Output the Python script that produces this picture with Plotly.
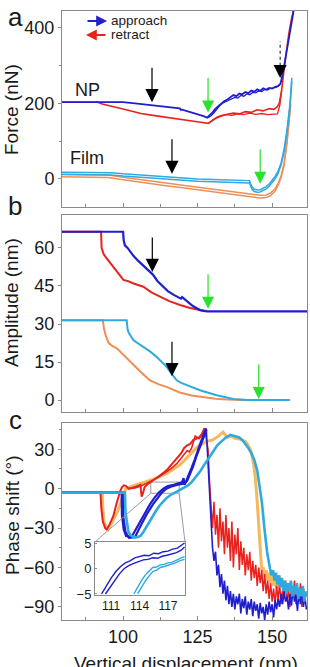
import plotly.graph_objects as go

# ---------------- data ----------------
X_RANGE = [79.5, 161.7]

# Panel a: force (nN)
np_app_a_x = [79.5, 90, 96, 100, 104, 108, 112, 116, 119, 119.3, 119.8, 122, 125, 127, 128.2, 129, 130, 131, 132, 133, 134, 135,
              136, 137, 138, 139, 140, 141, 142, 143, 144, 145, 146, 147, 148, 149, 150, 151, 152, 152.8, 153.5, 154.5, 155.5, 156.5, 157.2]
np_app_a_y = [203, 203, 203, 203, 200, 197, 193, 190, 187, 183, 183, 178, 172, 166, 162, 168, 176, 186, 193, 200, 206, 210,
              216, 222, 219, 226, 224, 230, 227, 234, 231, 237, 233, 240, 236, 241, 239, 244, 246, 252, 275, 320, 365, 410, 445]
np_app_a2_x = [128.5, 129.5, 130.5, 131.5, 132.5, 133.5, 134.5, 135.5, 136.5, 137.5, 138.5, 139.5, 140.5, 141.5, 142.5, 143.5,
               144.5, 145.5, 146.5, 147.5, 148.5, 149.5, 150.5, 151.5, 152.5]
np_app_a2_y = [162, 167, 175, 185, 195, 201, 205, 209, 212, 216, 214, 221, 219, 225, 223, 229, 228, 233, 231, 237, 236, 240, 241, 243, 248]
np_ret_a_x = [79.5, 91.5, 93, 96, 100, 103, 106, 110, 114, 117, 120, 123, 126, 128.6, 130, 131.5, 133, 135, 137, 139, 141, 143,
              145, 147, 149, 150.5, 151.6, 152.4, 153.2, 154, 154.8, 155.6, 156.4, 157.2]
np_ret_a_y = [203, 203, 198, 193, 185, 179, 173, 168, 163, 160, 156, 153, 150, 147, 155, 163, 168, 171, 174, 172, 178, 176,
              183, 180, 186, 184, 190, 200, 235, 290, 341, 385, 420, 448]
np_ret_a2_x = [128.6, 130.5, 132.5, 134.5, 136.5, 138.5, 140.5, 142.5, 144.5, 146.5, 148.5, 150.5, 151.8, 152.6, 153.2]
np_ret_a2_y = [147, 158, 165, 170, 168, 172, 170, 174, 171, 173, 170, 172, 172, 195, 235]
film_app_a_x = [79.5, 88, 96, 100, 105, 110, 115, 120, 125, 130, 135, 140, 142.4, 142.7, 143.3, 144, 145, 146, 147, 148, 149,
                150, 151, 152, 153, 154, 155, 156, 156.6]
film_app_a_y = [17, 17, 16, 13, 10, 7, 4, 1, -1, -2, -3, -4, -5, -12, -22, -28, -30, -29, -26, -21, -14, -5, 6, 20, 42, 78, 130, 200, 268]
film_app_a2_y = [11, 11, 10, 7, 4, 1, -2, -5, -7, -8, -9, -10, -11, -18, -28, -34, -36, -35, -32, -27, -20, -11, 0, 14, 36, 70, 122, 190, 258]
film_ret_a_x = [79.5, 90, 95, 100, 105, 110, 115, 120, 125, 130, 135, 140, 144, 146, 148, 149.5, 151, 152, 153, 154, 155, 156.2]
film_ret_a_y = [12, 12, 10, 4, -2, -7, -12, -17, -22, -28, -33, -38, -42, -44, -43, -38, -27, -12, 8, 40, 100, 200]
film_ret_a2_y = [5, 5, 3, -3, -9, -14, -19, -24, -29, -35, -40, -45, -49, -51, -50, -45, -33, -18, 3, 35, 95, 195]

# Panel b: amplitude (nm)
np_app_b_x = [79.5, 100, 100.2, 100.6, 101.5, 103.4, 105, 106.8, 108.5, 110, 111.5, 113.4, 115, 117, 119, 119.4, 119.8,
              121.4, 123.5, 125.8, 127.3, 128.2, 161.7]
np_app_b_y = [66.4, 66.4, 63, 61, 60, 57, 55, 53, 51, 49.5, 47, 44.8, 43, 41.5, 40.5, 40, 40.6, 39, 37, 35.5, 35, 35, 35]
np_ret_b_x = [79.5, 92.6, 92.8, 93.5, 94.5, 96.7, 98.4, 99.6, 100.1, 101.5, 103.5, 106.8, 109.5, 112.4, 115.5, 119.1, 122.5, 125.8, 127.5]
np_ret_b_y = [66.4, 66.4, 60, 57.5, 55.9, 52.6, 50, 48.5, 47.4, 47, 46, 44.7, 42.5, 40.8, 39, 37.5, 36.3, 35.5, 35]
film_app_b_x = [79.5, 101.2, 101.5, 101.9, 103.5, 106.8, 109, 111.3, 114.6, 116.5, 118, 119.5, 121.4, 125.8, 131.4, 137, 142, 156]
film_app_b_y = [31.5, 31.5, 28, 26.5, 23.6, 21, 19.2, 17, 13.1, 10, 7.8, 6.8, 5.9, 3.9, 1.9, 0.4, 0, 0]
film_ret_b_x = [79.5, 93.2, 93.6, 94.3, 95.2, 96.2, 97.9, 99.5, 101.5, 103.4, 106, 109, 112, 115, 119, 123, 127, 131, 135, 140, 156]
film_ret_b_y = [31.5, 31.5, 28, 25, 22.5, 21.5, 20.4, 18.5, 16, 13.8, 11, 7.8, 6.2, 5, 3, 1.8, 1, 0.5, 0.2, 0, 0]

# Panel c: phase shift (deg)
np_app_c1_x = [79.5, 99.5, 99.6, 100.2, 101.0, 102.0, 103.0, 104.5, 106.8, 109.0, 110.5, 112.0, 113.5, 115.0, 117.0, 119.0,
               119.8, 120.3, 120.6, 121.2, 122.0, 123.0, 124.0, 125.0, 126.0, 127.0, 127.9]
np_app_c1_y = [-3, -3, -20, -31, -36, -36.5, -36, -30, -20, -12, -7, -3, 0, 2, 3, 4.3, 5, 8, 3, 6, 10, 16, 22, 29, 35, 41, 46]
np_app_c2_x = [79.5, 100.0, 100.1, 100.8, 102.0, 103.0, 104.0, 105.5, 107.8, 110.0, 111.5, 113.0, 114.5, 116.0, 118.0, 119.5,
               120.5, 121.5, 122.5, 123.5, 124.5, 125.5, 126.5, 127.5, 128.0]
np_app_c2_y = [-3, -3, -22, -33, -37.5, -37.5, -37, -30, -20, -12, -7, -3, 0, 1.5, 2.8, 3.5, 4, 6, 11, 17, 24, 30, 36, 42, 45]
np_app_c_tail_x = [127.9, 128.5, 129.0, 129.5, 130.0, 130.5, 131.0, 131.5, 132.0, 132.5, 133.0, 133.5, 134.0, 134.5, 135.0,
                   135.5, 136.0, 136.5, 137.0, 137.5, 138.0, 138.5, 139.0, 139.5, 140.0, 140.5, 141.0, 141.5, 142.0, 142.5,
                   143.0, 143.5, 144.0, 144.5, 145.0, 145.5, 146.0, 146.5, 147.0, 147.5, 148.0, 148.5, 149.0, 149.5, 150.0,
                   150.5, 151.0, 151.5, 152.0, 152.5, 153.0, 153.5, 154.0, 154.5, 155.0, 155.5, 156.0, 156.5, 157.0, 157.5,
                   158.0, 158.5, 159.0, 159.5, 160.0, 160.5, 161.0, 161.5]
np_app_c_tail_y = [45, 20, -5, -25, -45, -55, -48, -66, -58, -75, -65, -80, -70, -85, -74, -88, -78, -90, -80, -92, -82, -88,
                   -80, -95, -84, -91, -82, -96, -86, -92, -84, -97, -86, -93, -88, -99, -87, -95, -90, -100, -88, -96, -86,
                   -94, -88, -98, -85, -92, -84, -90, -80, -88, -78, -86, -82, -92, -80, -89, -76, -86, -81, -93, -79, -88,
                   -75, -90, -82, -92]
np_ret_c1_x = [79.5, 92.4, 92.7, 93.2, 94.0, 94.5, 95.5, 96.7, 97.6, 98.4, 99.0, 99.6, 100.3, 101.0, 101.8, 103, 104, 105, 105.8,
               106.2, 106.6, 107.2, 108, 109, 110.5, 112, 113.5, 115, 116.5, 118, 119.5, 120.5, 121.5, 122.5, 123.5, 124.5,
               125.5, 126.5, 127.3]
np_ret_c1_y = [-3, -3, -15, -25, -30, -31, -27, -21, -13, -6, -2, 1, 2.5, 2, 0, 0.5, 1, 2, 3, -6, -4, 1, 3, 4.5, 7, 9.5, 12, 15,
               19, 23, 27, 31, 33, 34, 37, 38, 39, 42, 46]
np_ret_c2_x = [101.8, 104, 106, 108, 110, 112, 114, 116, 118, 120, 121.5, 122.2, 123, 124.2, 125.5, 126.5, 127.3]
np_ret_c2_y = [0, 0.5, 2, 4, 6.5, 9, 12, 15, 19, 25, 29, 28, 31, 40, 38, 41, 46]
np_ret_c_tail_x = [127.3, 128.0, 128.5, 129.0, 129.5, 130.0, 130.5, 131.0, 131.5, 132.0, 132.5, 133.0, 133.5, 134.0, 134.5,
                   135.0, 135.5, 136.0, 136.5, 137.0, 137.5, 138.0, 138.5, 139.0, 139.5, 140.0, 140.5, 141.0, 141.5, 142.0,
                   142.5, 143.0, 143.5, 144.0, 144.5, 145.0, 145.5, 146.0, 146.5, 147.0, 147.5, 148.0, 148.5, 149.0, 149.5,
                   150.0, 150.5, 151.0, 151.5, 152.0, 152.5, 153.0, 153.5, 154.0, 154.5, 155.0, 155.5, 156.0, 156.5, 157.0,
                   157.5, 158.0, 158.5, 159.0, 159.5, 160.0, 160.5, 161.0, 161.5]
np_ret_c_tail_y = [46, 38, 30, 5, -15, -30, -10, -35, -20, -45, -15, -40, -25, -50, -20, -45, -30, -55, -25, -60, -35, -50,
                   -30, -62, -40, -58, -45, -66, -50, -62, -48, -70, -55, -68, -58, -74, -60, -72, -62, -78, -65, -80, -70,
                   -84, -72, -86, -76, -88, -74, -85, -72, -88, -78, -84, -70, -86, -76, -90, -74, -82, -70, -88, -78, -85,
                   -72, -90, -76, -84, -80]
film_ret_c_x = [79.5, 93.0, 93.2, 93.6, 94.3, 95.0, 95.6, 96.8, 97.9, 99.0, 100.1, 100.9, 103, 106, 110, 115, 119, 122, 125, 128,
                130, 132, 133.5, 135, 136, 137, 138, 139, 140, 141, 142, 143, 143.7, 144.3, 145, 145.5, 146, 146.5, 147, 147.5,
                148, 148.5, 149, 149.5, 150, 150.5, 151, 151.5, 152, 152.6]
film_ret_c_y = [-3, -3, -15, -25, -29, -31, -28.6, -23, -18.5, -12, -5.8, 0, 2, 4, 7, 12, 18, 25, 32, 36, 37, 40, 43, 39, 40, 39,
                38, 38, 37, 36, 33, 28, 20, 10, -10, -30, -50, -62, -60, -67, -62, -70, -64, -72, -66, -74, -68, -76, -70, -66]
film_app_c_x = [79.5, 100.6, 100.8, 101.3, 101.8, 102.8, 103.8, 104.8, 105.8, 106.8, 107.8, 108.8, 109.8, 111, 112.2, 113.4,
                114.6, 115.8, 117, 118.2, 119.4, 120.6, 121.8, 123, 124.4, 125.8, 127.2, 128.6, 130.2, 131.6, 133, 134.5, 136,
                137, 138, 139, 140, 141, 142, 143, 144, 145, 145.8, 146.6, 147.4, 148.3, 149.3, 149.8, 150.3, 150.8, 151.3,
                151.8, 152.3, 152.8, 153.3, 153.8, 154.3, 154.8, 155.3, 155.8, 156.3, 156.8, 157.3, 157.8, 158.3, 158.8,
                159.3, 159.8, 160.3, 160.8, 161.3]
film_app_c_y = [-3, -3, -18, -28, -33, -36, -37, -37, -36, -33, -29, -25.5, -22, -17, -13, -10, -7, -5, -3.5, -2, -0.5, 0.5, 2.5,
                5, 9, 13, 18, 23, 29, 33, 36, 39, 41, 40.5, 40, 39, 37, 34, 31, 27, 22, 14, 2, -11, -30, -48, -61, -66, -62,
                -70, -64, -73, -66, -75, -68, -78, -70, -80, -72, -78, -70, -82, -74, -80, -72, -84, -76, -82, -74, -86, -78]

# Inset (zoom of panel c)
inset_blue1_x = [110.0, 110.5, 111.0, 111.5, 112.0, 112.5, 113.0, 113.5, 114.0, 114.5, 115.0, 115.5, 116.0, 116.5, 117.0,
                 117.5, 118.0, 118.4, 118.75]
inset_blue1_y = [-5.0, -3.4, -1.9, -0.6, 0.4, 1.1, 1.5, 2.1, 2.3, 2.6, 2.5, 3.0, 2.9, 3.3, 3.4, 3.8, 4.0, 4.6, 5.0]
inset_blue2_x = [110.4, 110.9, 111.4, 111.9, 112.4, 112.9, 113.4, 113.9, 114.4, 114.9, 115.4, 115.9, 116.4, 116.9, 117.4,
                 117.9, 118.4, 118.75]
inset_blue2_y = [-5.0, -3.6, -2.2, -1.0, 0.0, 0.6, 1.0, 1.4, 1.7, 1.8, 2.1, 2.0, 2.4, 2.6, 2.9, 3.1, 3.6, 4.2]
inset_cyan1_x = [113.4, 113.8, 114.2, 114.6, 115.0, 115.4, 115.8, 116.2, 116.6, 117.0, 117.4, 117.8, 118.2, 118.5, 118.75]
inset_cyan1_y = [-5.0, -3.6, -2.4, -1.3, -0.5, 0.2, 0.3, 0.7, 0.8, 1.1, 1.2, 1.5, 1.9, 2.2, 2.3]
inset_cyan2_x = [113.8, 114.2, 114.6, 115.0, 115.4, 115.8, 116.2, 116.6, 117.0, 117.4, 117.8, 118.2, 118.5, 118.75]
inset_cyan2_y = [-5.0, -3.7, -2.5, -1.5, -0.6, -0.3, 0.2, 0.4, 0.6, 0.8, 1.1, 1.5, 1.7, 1.8]

# ---------------- style ----------------
BLUE = "#1f1fcf"
RED = "#e8231f"
CYAN = "#2eaadf"
ORANGE_A = "#ef8f55"
ORANGE_C = "#f4b24c"
GREEN = "#27e32a"
AX = "#8a8a8a"
TXT = "#1a1a1a"
FONT = "Liberation Sans, Arial, sans-serif"

W, H = 310, 667
ML, MR, MT, MB = 62, 3, 11, 47
PH = H - MT - MB


def py(px):
    return (H - MB - px) / PH


def pxx(px):
    return (px - ML) / (W - ML - MR)


DOM_A = [py(207), 1.0]
DOM_B = [py(412), py(215)]
DOM_C = [0.0, py(423)]
Y_A = [-75, 445]
Y_B = [-4.7, 73]
Y_C = [-100, 50]
IN_X = [109.3, 118.8]
IN_Y = [-5.2, 5.2]
IN_DX = [pxx(95), pxx(185)]
IN_DY = [py(595), py(542)]

fig = go.Figure()


def line(x, y, color, width, xa, ya, opacity=1.0):
    fig.add_trace(go.Scatter(x=x, y=y, mode="lines", line=dict(color=color, width=width),
                             opacity=opacity, xaxis=xa, yaxis=ya, showlegend=False, hoverinfo="skip"))


# panel a
line(film_ret_a_x, film_ret_a_y, ORANGE_A, 1.5, "x", "y")
line(film_ret_a_x, film_ret_a2_y, ORANGE_A, 1.5, "x", "y")
line(film_app_a_x, film_app_a_y, CYAN, 1.5, "x", "y")
line(film_app_a_x, film_app_a2_y, CYAN, 1.5, "x", "y")
line(np_ret_a_x, np_ret_a_y, RED, 1.6, "x", "y")
line(np_ret_a2_x, np_ret_a2_y, RED, 1.3, "x", "y")
line(np_app_a_x, np_app_a_y, BLUE, 1.8, "x", "y")
line(np_app_a2_x, np_app_a2_y, BLUE, 1.3, "x", "y")

# panel b
line(film_ret_b_x, film_ret_b_y, ORANGE_A, 2, "x2", "y2")
line(film_app_b_x, film_app_b_y, CYAN, 2, "x2", "y2")
line(np_ret_b_x, np_ret_b_y, RED, 2, "x2", "y2")
line(np_app_b_x, np_app_b_y, BLUE, 2.2, "x2", "y2")

# panel c
line(film_ret_c_x, film_ret_c_y, ORANGE_C, 3, "x3", "y3", 0.9)
line(np_ret_c_tail_x, np_ret_c_tail_y, RED, 1.5, "x3", "y3")
line(np_ret_c1_x, np_ret_c1_y, RED, 2, "x3", "y3")
line(np_ret_c2_x, np_ret_c2_y, RED, 1.6, "x3", "y3")
line(np_app_c_tail_x, np_app_c_tail_y, BLUE, 1.6, "x3", "y3")
line(np_app_c1_x, np_app_c1_y, BLUE, 2.2, "x3", "y3")
line(np_app_c2_x, np_app_c2_y, BLUE, 2.2, "x3", "y3")
line(film_app_c_x, film_app_c_y, CYAN, 2.6, "x3", "y3")

# inset
line(inset_blue1_x, inset_blue1_y, BLUE, 1.4, "x4", "y4")
line(inset_blue2_x, inset_blue2_y, BLUE, 1.4, "x4", "y4")
line(inset_cyan1_x, inset_cyan1_y, CYAN, 1.4, "x4", "y4")
line(inset_cyan2_x, inset_cyan2_y, CYAN, 1.4, "x4", "y4")

common_x = dict(range=X_RANGE, showline=True, linecolor=AX, linewidth=1, mirror=True, ticks="inside",
                ticklen=4, tickcolor=AX, tick0=100, dtick=25, showgrid=False, zeroline=False,
                minor=dict(ticks="inside", ticklen=3, tickcolor=AX, dtick=12.5, tick0=100),
                tickfont=dict(size=18, color=TXT, family=FONT))
common_y = dict(showline=True, linecolor=AX, linewidth=1, mirror=True, ticks="outside", ticklen=3,
                tickcolor=AX, showgrid=False, zeroline=False, tickfont=dict(size=18, color=TXT, family=FONT))

fig.update_layout(
    width=W, height=H, margin=dict(l=ML, r=MR, t=MT, b=MB),
    paper_bgcolor="white", plot_bgcolor="white", showlegend=False,
    xaxis=dict(common_x, domain=[0, 1], anchor="y", showticklabels=False),
    xaxis2=dict(common_x, domain=[0, 1], anchor="y2", showticklabels=False),
    xaxis3=dict(common_x, domain=[0, 1], anchor="y3", showticklabels=True),
    yaxis=dict(common_y, domain=DOM_A, anchor="x", range=Y_A, tickvals=[0, 200, 400],
               minor=dict(ticks="outside", ticklen=2, tickcolor=AX, tickvals=[100, 300])),
    yaxis2=dict(common_y, domain=DOM_B, anchor="x2", range=Y_B, tickvals=[0, 15, 30, 45, 60]),
    yaxis3=dict(common_y, domain=DOM_C, anchor="x3", range=Y_C, tickvals=[-90, -60, -30, 0, 30],
                minor=dict(ticks="outside", ticklen=2, tickcolor=AX, tickvals=[-75, -45, -15, 15, 45])),
    xaxis4=dict(domain=IN_DX, anchor="y4", range=IN_X, showline=True, linecolor=AX, linewidth=1, mirror=True,
                ticks="", tickvals=[111, 114, 117], showgrid=False, zeroline=False,
                tickfont=dict(size=12, color=TXT, family=FONT)),
    yaxis4=dict(domain=IN_DY, anchor="x4", range=IN_Y, showline=True, linecolor=AX, linewidth=1, mirror=True,
                ticks="inside", ticklen=2, tickcolor=AX, tickvals=[-5, 0, 5], showgrid=False, zeroline=False,
                tickfont=dict(size=13, color=TXT, family=FONT)),
)

ann = []
# axis titles and panel letters
ann.append(dict(text="Force (nN)", xref="paper", yref="paper", x=pxx(11), y=py(110), textangle=-90,
                showarrow=False, font=dict(size=19, color=TXT, family=FONT), xanchor="center", yanchor="middle"))
ann.append(dict(text="Amplitude (nm)", xref="paper", yref="paper", x=pxx(11), y=py(303), textangle=-90,
                showarrow=False, font=dict(size=19, color=TXT, family=FONT), xanchor="center", yanchor="middle"))
ann.append(dict(text="Phase shift (°)", xref="paper", yref="paper", x=pxx(12), y=py(515), textangle=-90,
                showarrow=False, font=dict(size=19, color=TXT, family=FONT), xanchor="center", yanchor="middle"))
ann.append(dict(text="Vertical displacement (nm)", xref="paper", yref="paper", x=pxx(186), y=py(663),
                showarrow=False, font=dict(size=19, color=TXT, family=FONT), xanchor="center", yanchor="middle"))
for letter, cy in (("a", 17), ("b", 206), ("c", 420)):
    ann.append(dict(text=letter, xref="paper", yref="paper", x=pxx(15), y=py(cy), showarrow=False,
                    font=dict(size=26, color=TXT, family=FONT), xanchor="center", yanchor="middle"))
# NP / Film labels
ann.append(dict(text="NP", xref="x", yref="y", x=87.9, y=235, showarrow=False,
                font=dict(size=18, color=TXT, family=FONT)))
ann.append(dict(text="Film", xref="x", yref="y", x=87.9, y=56, showarrow=False,
                font=dict(size=18, color=TXT, family=FONT)))
# legend
ann.append(dict(text="", xref="paper", yref="paper", x=pxx(107), y=py(21), ax=-21, ay=0, axref="pixel", ayref="pixel",
                showarrow=True, arrowhead=2, arrowsize=1.2, arrowwidth=1.8, arrowcolor=BLUE))
ann.append(dict(text="", xref="paper", yref="paper", x=pxx(86), y=py(35), ax=21, ay=0, axref="pixel", ayref="pixel",
                showarrow=True, arrowhead=2, arrowsize=1.2, arrowwidth=1.8, arrowcolor=RED))
ann.append(dict(text="approach", xref="paper", yref="paper", x=pxx(109), y=py(20.5), showarrow=False,
                xanchor="left", yanchor="middle", font=dict(size=13.5, color=TXT, family=FONT)))
ann.append(dict(text="retract", xref="paper", yref="paper", x=pxx(109), y=py(35), showarrow=False,
                xanchor="left", yanchor="middle", font=dict(size=13.5, color=TXT, family=FONT)))

# marker arrows: (xaxis, yaxis, tip x, tip y, color)
arrows = [
    ("x", "y", 109.7, 203, "black"), ("x", "y", 128.5, 176, GREEN),
    ("x", "y", 116.4, 13, "black"), ("x", "y", 146.0, -13, GREEN),
    ("x2", "y2", 109.8, 50.5, "black"), ("x2", "y2", 128.5, 36, GREEN),
    ("x2", "y2", 116.4, 9.4, "black"), ("x2", "y2", 145.5, 0.4, GREEN),
]
for xa, ya, xt, yt, col in arrows:
    ann.append(dict(text="", xref=xa, yref=ya, x=xt, y=yt, ax=0, ay=-36, axref="pixel", ayref="pixel",
                    showarrow=True, arrowhead=2, arrowsize=2.2 if col == "black" else 2.0,
                    arrowwidth=1.2, arrowcolor=col))
# dashed arrow (head) near the steep rise
ann.append(dict(text="", xref="x", yref="y", x=152.7, y=267, ax=0, ay=-13, axref="pixel", ayref="pixel",
                showarrow=True, arrowhead=2, arrowsize=2.2, arrowwidth=1.2, arrowcolor="black"))

fig.update_layout(annotations=ann)

shapes = []
shapes.append(dict(type="line", xref="x", yref="y", x0=152.7, x1=152.7, y0=300, y1=365,
                   line=dict(color="#444", width=1.3, dash="dot")))
# zoom box in panel c and connectors to the inset


def cpx(xv):
    return (xv - X_RANGE[0]) / (X_RANGE[1] - X_RANGE[0])


def cpy(yv):
    return DOM_C[0] + (yv - Y_C[0]) / (Y_C[1] - Y_C[0]) * (DOM_C[1] - DOM_C[0])


shapes.append(dict(type="rect", xref="x3", yref="y3", x0=IN_X[0], x1=IN_X[1], y0=-3.5, y1=5,
                   line=dict(color="#9a9a9a", width=1), layer="below"))
shapes.append(dict(type="line", xref="paper", yref="paper", x0=IN_DX[0], y0=IN_DY[1], x1=cpx(IN_X[0]), y1=cpy(-3.5),
                   line=dict(color="#9a9a9a", width=1)))
shapes.append(dict(type="line", xref="paper", yref="paper", x0=IN_DX[1], y0=IN_DY[1], x1=cpx(IN_X[1]), y1=cpy(-3.5),
                   line=dict(color="#9a9a9a", width=1)))
fig.update_layout(shapes=shapes)

fig.write_html("out.html")
